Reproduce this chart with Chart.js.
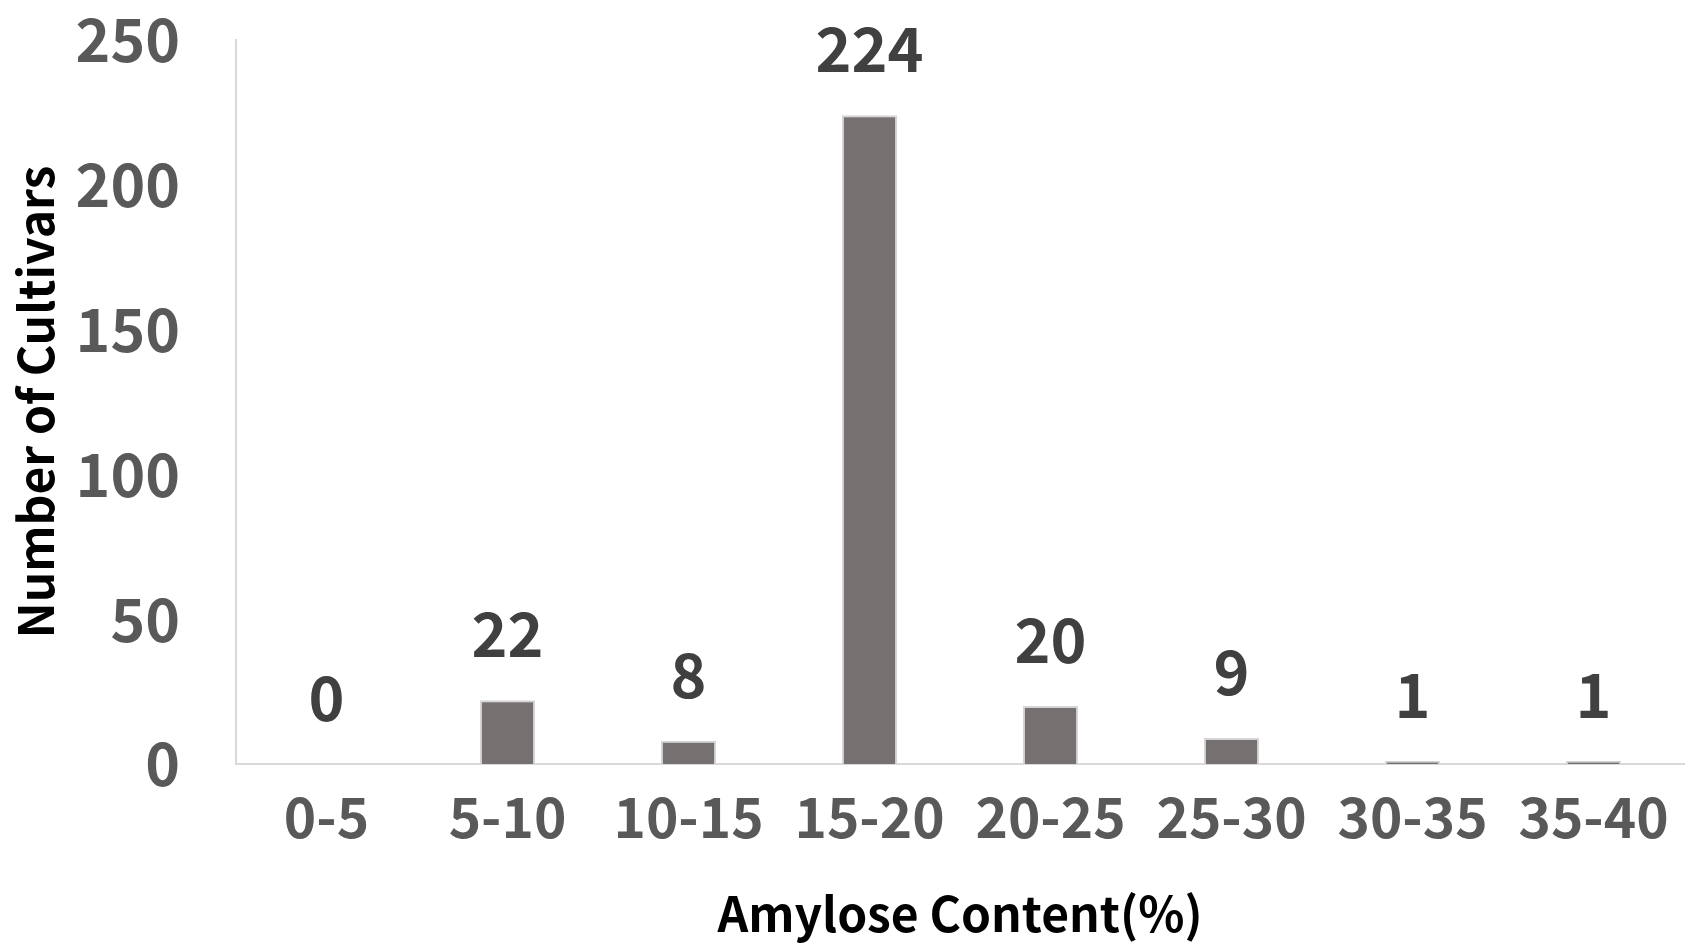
<!DOCTYPE html>
<html>
<head>
<meta charset="utf-8">
<script src="https://cdn.jsdelivr.net/npm/chart.js@4/dist/chart.umd.min.js"></script>
<style>
  html, body { margin: 0; padding: 0; background: #ffffff; }
  #wrap { width: 1695px; height: 948px; position: relative; }
</style>
</head>
<body>
<div id="wrap"><canvas id="amylose-chart"></canvas></div>
<script>
const CATEGORIES = ['0-5', '5-10', '10-15', '15-20', '20-25', '25-30', '30-35', '35-40'];
const CULTIVARS = [0, 22, 8, 224, 20, 9, 1, 1];
const Y_TICKS = [0, 50, 100, 150, 200, 250];

const FONT = '"Noto Sans CJK KR", "Open Sans", sans-serif';

// value labels above each bar, positioned from the bar elements
const valueLabels = {
  id: 'valueLabels',
  afterDatasetsDraw(chart) {
    const { ctx } = chart;
    const meta = chart.getDatasetMeta(0);
    ctx.save();
    ctx.font = `bold 61px ${FONT}`;
    ctx.fillStyle = '#404040';
    ctx.textAlign = 'center';
    ctx.textBaseline = 'middle';
    meta.data.forEach((bar, i) => {
      ctx.fillText(String(CULTIVARS[i]), bar.x, bar.y - 66);
    });
    ctx.restore();
  },
};

new Chart(document.getElementById('amylose-chart'), {
  type: 'bar',
  data: {
    labels: CATEGORIES,
    datasets: [
      {
        data: CULTIVARS,
        backgroundColor: '#767171',
        borderColor: '#d6d4d4',
        borderWidth: 2,
        categoryPercentage: 1,
        barPercentage: 0.305,
      },
    ],
  },
  options: {
    responsive: true,
    maintainAspectRatio: false,
    animation: false,
    layout: { padding: { top: 40, right: 11, bottom: 0, left: 0 } },
    plugins: {
      legend: { display: false },
      tooltip: { enabled: false },
    },
    scales: {
      x: {
        grid: { display: false },
        border: { display: true, color: '#d9d9d9', width: 2 },
        ticks: {
          color: '#595959',
          padding: 12,
          font: { family: FONT, size: 55, weight: 'bold' },
        },
        title: {
          display: true,
          text: 'Amylose Content(%)',
          color: '#000000',
          font: { family: FONT, size: 48, weight: 'bold', lineHeight: 1 },
          padding: { top: 0, bottom: 10 },
        },
        afterFit: (s) => {
          s.height = 184;
          s.paddingLeft = 0;
          s.paddingRight = 0;
        },
      },
      y: {
        min: 0,
        max: 250,
        afterBuildTicks: (s) => { s.ticks = Y_TICKS.map((v) => ({ value: v })); },
        grid: { display: false },
        border: { display: true, color: '#d9d9d9', width: 2 },
        ticks: {
          color: '#595959',
          padding: 48,
          font: { family: FONT, size: 59, weight: 'bold' },
        },
        title: {
          display: true,
          text: 'Number of Cultivars',
          color: '#000000',
          font: { family: FONT, size: 48, weight: 'bold', lineHeight: 1 },
          padding: { top: 12, bottom: 0 },
        },
        afterFit: (s) => {
          s.width = 236;
          s.paddingTop = 0;
          s.paddingBottom = 0;
        },
      },
    },
  },
  plugins: [valueLabels],
});
</script>
</body>
</html>
